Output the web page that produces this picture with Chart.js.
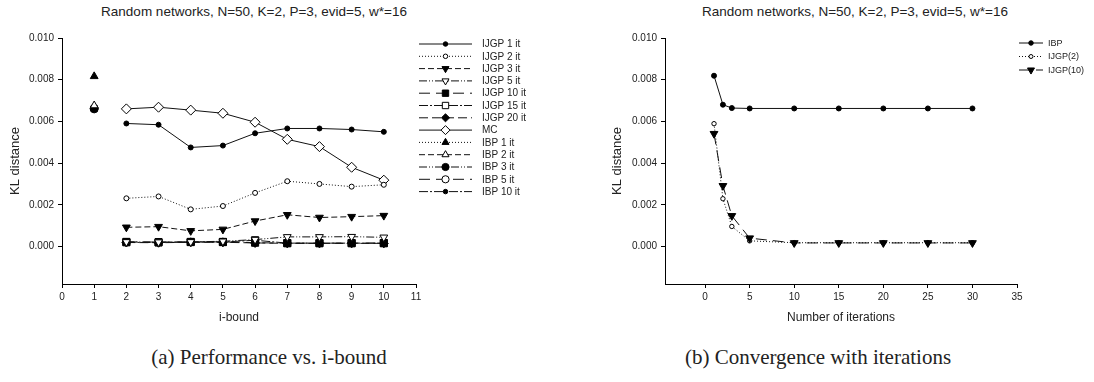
<!DOCTYPE html>
<html>
<head>
<meta charset="utf-8">
<script src="https://cdn.jsdelivr.net/npm/chart.js@4/dist/chart.umd.min.js"></script>
<style>
  html, body { margin: 0; padding: 0; background: #fff; }
  body { width: 1094px; height: 382px; position: relative; overflow: hidden; }
  .cv { position: absolute; top: 0; }
  .ttl { position: absolute; top: 3px; font: 13.5px 'Liberation Sans', Arial, sans-serif; color: #222; white-space: nowrap; transform: translateX(-50%); line-height: 18px; }
  .cap { position: absolute; top: 343px; font: 21px 'Liberation Serif', 'DejaVu Serif', serif; color: #222; white-space: nowrap; transform: translateX(-50%); line-height: 28px; }
</style>
</head>
<body>
<div class="ttl" style="left:254px">Random networks, N=50, K=2, P=3, evid=5, w*=16</div>
<div class="ttl" style="left:855px">Random networks, N=50, K=2, P=3, evid=5, w*=16</div>
<canvas id="c1" class="cv" style="left:0px" width="547" height="330"></canvas>
<canvas id="c2" class="cv" style="left:547px" width="547" height="330"></canvas>
<div class="cap" style="left:269px">(a) Performance vs. i-bound</div>
<div class="cap" style="left:818px">(b) Convergence with iterations</div>
<script>
// ---------- data: chart (a) ----------
const iBound = [1, 2, 3, 4, 5, 6, 7, 8, 9, 10];
const ijgp1it  = [null, 0.00590, 0.00584, 0.00475, 0.00484, 0.00543, 0.00566, 0.00566, 0.00561, 0.00550];
const ijgp2it  = [null, 0.00231, 0.00240, 0.00178, 0.00194, 0.00257, 0.00313, 0.00300, 0.00287, 0.00296];
const ijgp3it  = [null, 0.00092, 0.00095, 0.00075, 0.00082, 0.00122, 0.00152, 0.00139, 0.00143, 0.00148];
const ijgp5it  = [null, 0.00022, 0.00021, 0.00022, 0.00025, 0.00033, 0.00046, 0.00046, 0.00047, 0.00044];
const ijgp10it = [null, 0.00022, 0.00021, 0.00022, 0.00022, 0.00018, 0.00016, 0.00016, 0.00016, 0.00016];
const ijgp15it = [null, 0.00020, 0.00019, 0.00021, 0.00021, 0.00030, 0.00016, 0.00016, 0.00016, 0.00016];
const ijgp20it = [null, 0.00019, 0.00018, 0.00020, 0.00020, 0.00017, 0.00015, 0.00015, 0.00015, 0.00015];
const mc       = [null, 0.00660, 0.00668, 0.00654, 0.00639, 0.00596, 0.00514, 0.00479, 0.00380, 0.00318];
const ibp1it   = [0.00816, null, null, null, null, null, null, null, null, null];
const ibp2it   = [0.00676, null, null, null, null, null, null, null, null, null];
const ibp3it   = [0.00662, null, null, null, null, null, null, null, null, null];
const ibp5it   = [0.00660, null, null, null, null, null, null, null, null, null];
const ibp10it  = [0.00662, null, null, null, null, null, null, null, null, null];
const xTicksA = [0, 1, 2, 3, 4, 5, 6, 7, 8, 9, 10, 11];
const yTicks = [0, 0.002, 0.004, 0.006, 0.008, 0.010];

// ---------- data: chart (b) ----------
const iterations = [1, 2, 3, 5, 10, 15, 20, 25, 30];
const ibpConv    = [0.00819, 0.00680, 0.00664, 0.00662, 0.00662, 0.00662, 0.00662, 0.00662, 0.00662];
const ijgp2Conv  = [0.00589, 0.00229, 0.00096, 0.00027, 0.00018, 0.00018, 0.00018, 0.00018, 0.00018];
const ijgp10Conv = [0.00541, 0.00291, 0.00147, 0.00040, 0.00017, 0.00017, 0.00017, 0.00017, 0.00017];
const xTicksB = [0, 5, 10, 15, 20, 25, 30, 35];

// ---------- styles ----------
const SOLID = [], DOT = [1, 2], DASH = [6, 3], DDOT = [8, 2, 1, 2, 1, 2], MDASH = [11, 6], DASHDOT = [9, 2, 2, 2], LDASH = [9, 4];
const FONT = "'Liberation Sans', Arial, sans-serif";
Chart.defaults.font.family = FONT;
Chart.defaults.color = '#222';

function pts(xs, ys) {
  const out = [];
  xs.forEach((x, i) => { if (ys[i] !== null && ys[i] !== undefined) out.push({ x: x, y: ys[i] }); });
  return out;
}
function series(label, xs, ys, dash, style, filled, radius, rotation, order) {
  return {
    label: label,
    data: pts(xs, ys),
    showLine: true,
    order: order || 0,
    borderColor: '#111',
    borderWidth: 1,
    borderDash: dash,
    pointStyle: style,
    pointRotation: rotation || 0,
    pointRadius: radius,
    pointHoverRadius: radius,
    pointBackgroundColor: filled ? '#000' : '#fff',
    pointBorderColor: '#000',
    pointBorderWidth: 1,
    tension: 0
  };
}

const sideLegend = {
  id: 'sideLegend',
  afterDraw(chart, args, opts) {
    const ctx = chart.ctx;
    chart.data.datasets.forEach((ds, i) => {
      const y = opts.y0 + i * opts.dy;
      ctx.save();
      ctx.strokeStyle = ds.borderColor;
      ctx.lineWidth = ds.borderWidth;
      ctx.setLineDash(ds.borderDash || []);
      ctx.beginPath();
      ctx.moveTo(opts.x0, y);
      ctx.lineTo(opts.x1, y);
      ctx.stroke();
      ctx.setLineDash([]);
      ctx.fillStyle = ds.pointBackgroundColor;
      ctx.strokeStyle = ds.pointBorderColor;
      ctx.lineWidth = ds.pointBorderWidth;
      Chart.helpers.drawPoint(ctx, {
        pointStyle: ds.pointStyle,
        rotation: ds.pointRotation,
        radius: ds.pointRadius * (opts.scale || 1),
        borderWidth: ds.pointBorderWidth
      }, (opts.x0 + opts.x1) / 2, y);
      ctx.fillStyle = '#222';
      ctx.font = opts.font;
      ctx.textBaseline = 'middle';
      ctx.textAlign = 'left';
      ctx.fillText(ds.label, opts.tx, y + 0.5);
      ctx.restore();
    });
  }
};

function axes(xmin, xmax, xTicks, yWidth, yTitlePad) {
  return {
    x: {
      type: 'linear', min: xmin, max: xmax,
      afterBuildTicks(s) { s.ticks = xTicks.map(v => ({ value: v })); },
      afterFit(s) { s.height = 46; },
      grid: { display: true, drawOnChartArea: false, drawTicks: true, tickLength: 4, color: '#000', lineWidth: 1 },
      border: { display: true, color: '#000', width: 1 },
      ticks: { font: { size: 10 }, color: '#222', padding: 3, maxRotation: 0, autoSkip: false, callback: v => String(v) },
      title: { display: true, font: { size: 12 }, color: '#222', padding: { top: 0, bottom: 4.8 } }
    },
    y: {
      type: 'linear', min: -0.0018, max: 0.010,
      afterBuildTicks(s) { s.ticks = yTicks.map(v => ({ value: v })); },
      afterFit(s) { s.width = yWidth; },
      grid: { display: true, drawOnChartArea: false, drawTicks: true, tickLength: 4, color: '#000', lineWidth: 1 },
      border: { display: true, color: '#000', width: 1 },
      ticks: { font: { size: 10 }, color: '#222', padding: 4, autoSkip: false, callback: v => v.toFixed(3) },
      title: { display: true, text: 'KL distance', font: { size: 13 }, color: '#222', padding: { top: yTitlePad, bottom: 0 } }
    }
  };
}

// ---------- chart (a) ----------
const scalesA = axes(0, 11, xTicksA, 62, 7.2);
scalesA.x.title.text = 'i-bound';
new Chart(document.getElementById('c1'), {
  type: 'scatter',
  data: {
    datasets: [
      series('IJGP 1 it', iBound, ijgp1it, SOLID, 'circle', true, 2.5),
      series('IJGP 2 it', iBound, ijgp2it, DOT, 'circle', false, 2.5),
      series('IJGP 3 it', iBound, ijgp3it, DASH, 'triangle', true, 4.5, 180),
      series('IJGP 5 it', iBound, ijgp5it, DDOT, 'triangle', false, 4.5, 180),
      series('IJGP 10 it', iBound, ijgp10it, MDASH, 'rect', true, 5),
      series('IJGP 15 it', iBound, ijgp15it, DASHDOT, 'rect', false, 5),
      series('IJGP 20 it', iBound, ijgp20it, LDASH, 'rectRot', true, 4.5),
      series('MC', iBound, mc, SOLID, 'rectRot', false, 5),
      series('IBP 1 it', iBound, ibp1it, DOT, 'triangle', true, 4.5),
      series('IBP 2 it', iBound, ibp2it, DASH, 'triangle', false, 4.5),
      series('IBP 3 it', iBound, ibp3it, DDOT, 'circle', true, 4),
      series('IBP 5 it', iBound, ibp5it, MDASH, 'circle', false, 4),
      series('IBP 10 it', iBound, ibp10it, DASHDOT, 'circle', true, 2.5)
    ]
  },
  options: {
    responsive: false, animation: false, devicePixelRatio: 1,
    layout: { padding: { top: 38, right: 131, left: 0, bottom: 0 } },
    plugins: {
      legend: { display: false }, tooltip: { enabled: false }, title: { display: false },
      sideLegend: { x0: 419, x1: 472, tx: 482, y0: 44, dy: 12.3, font: "10px " + FONT, scale: 0.9 }
    },
    scales: scalesA
  },
  plugins: [sideLegend]
});

// ---------- chart (b) ----------
const scalesB = axes(-4.5, 35, xTicksB, 118, 62.2);
scalesB.x.title.text = 'Number of iterations';
new Chart(document.getElementById('c2'), {
  type: 'scatter',
  data: {
    datasets: [
      series('IBP', iterations, ibpConv, SOLID, 'circle', true, 2.5, 0, 0),
      series('IJGP(2)', iterations, ijgp2Conv, DOT, 'circle', false, 2.2, 0, 2),
      series('IJGP(10)', iterations, ijgp10Conv, MDASH, 'triangle', true, 4.5, 180, 1)
    ]
  },
  options: {
    responsive: false, animation: false, devicePixelRatio: 1,
    layout: { padding: { top: 38, right: 77, left: 0, bottom: 0 } },
    plugins: {
      legend: { display: false }, tooltip: { enabled: false }, title: { display: false },
      sideLegend: { x0: 472, x1: 496, tx: 501, y0: 43, dy: 13.5, font: "9px " + FONT, scale: 0.9 }
    },
    scales: scalesB
  },
  plugins: [sideLegend]
});
</script>
</body>
</html>
